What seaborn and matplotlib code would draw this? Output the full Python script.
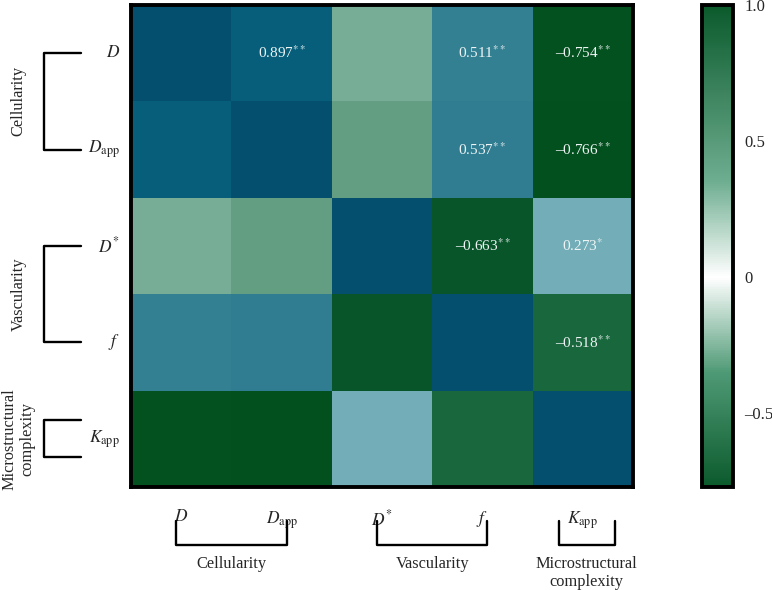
import numpy as np
import pandas as pd
import matplotlib
matplotlib.use("Agg")
import matplotlib.pyplot as plt
import seaborn as sns
from matplotlib.colors import LinearSegmentedColormap, Normalize
from matplotlib.cm import ScalarMappable
from matplotlib.transforms import blended_transform_factory

sns.set_theme(style="white")
plt.rcParams["font.family"] = ["Liberation Serif", "DejaVu Serif"]
plt.rcParams["mathtext.fontset"] = "stix"

# Datos: matriz de correlación (parámetros IVIM / DKI)
params = ["D", "Dapp", "D*", "f", "Kapp"]
tick_labels = [r"$D$", r"$D_{\mathrm{app}}$", r"$D^{*}$", r"$f$", r"$K_{\mathrm{app}}$"]
row_D = [1.0, 0.897, -0.25, 0.511, -0.754]
row_Dapp = [0.897, 1.0, -0.30, 0.537, -0.766]
row_Dstar = [-0.25, -0.30, 1.0, -0.663, 0.273]
row_f = [0.511, 0.537, -0.663, 1.0, -0.518]
row_Kapp = [-0.754, -0.766, 0.273, -0.518, 1.0]

# Etiquetas con significancia (solo triángulo superior)
annot_D = ["", "0.897$^{**}$", "", "0.511$^{**}$", "–0.754$^{**}$"]
annot_Dapp = ["", "", "", "0.537$^{**}$", "–0.766$^{**}$"]
annot_Dstar = ["", "", "", "–0.663$^{**}$", "0.273$^{*}$"]
annot_f = ["", "", "", "", "–0.518$^{**}$"]
annot_Kapp = ["", "", "", "", ""]

group_names = ["Cellularity", "Vascularity", "Microstructural\ncomplexity"]
group_first = [0, 2, 4]
group_last = [1, 3, 4]

cbar_ticks = [1.0, 0.5, 0, -0.5]
cbar_labels = ["1.0", "0.5", "0", "–0.5"]
vmin, vmax = -0.77, 1.0

corr = pd.DataFrame([row_D, row_Dapp, row_Dstar, row_f, row_Kapp], index=params, columns=params)
annot = np.array([annot_D, annot_Dapp, annot_Dstar, annot_f, annot_Kapp])

# Colormap de las celdas: verde (negativo) -> azul (positivo)
def pos(v):
    return (v - vmin) / (vmax - vmin)

cell_cmap = LinearSegmentedColormap.from_list("cells", [
    (pos(-0.77), "#03501f"), (pos(-0.66), "#07552a"), (pos(-0.5), "#1b6a40"),
    (pos(-0.25), "#77ad96"), (pos(0.0), "#eef5f3"), (pos(0.27), "#72adb8"),
    (pos(0.52), "#337f92"), (pos(0.9), "#065e7a"), (pos(1.0), "#034f6d")])

# Colormap de la barra: verde - blanco - verde
bar_cmap = LinearSegmentedColormap.from_list("bar", [
    (0.0, "#0b5a2c"), (pos(-0.35), "#4f9a76"), (pos(0.0), "#ffffff"),
    (pos(0.35), "#6fae91"), (1.0, "#0b5a2c")])

fig = plt.figure(figsize=(7.72, 5.90), dpi=100)
ax = fig.add_axes([131 / 772, 1 - 487 / 590, 502 / 772, 482 / 590])
cax = fig.add_axes([702 / 772, 1 - 487 / 590, 31 / 772, 482 / 590])

sns.heatmap(corr, ax=ax, cmap=cell_cmap, vmin=vmin, vmax=vmax, cbar=False,
            annot=annot, fmt="", annot_kws={"color": "#eef4f4", "fontsize": 11})

for s in ax.spines.values():
    s.set_visible(True)
    s.set_linewidth(2.8)
    s.set_color("black")

ax.set_xticks(np.arange(5) + 0.5)
ax.set_yticks(np.arange(5) + 0.5)
ax.set_xticklabels(tick_labels, fontsize=12.5, rotation=0)
ax.set_yticklabels(tick_labels, fontsize=12.5, rotation=0)
ax.tick_params(axis="both", length=0)
ax.tick_params(axis="x", pad=16)
ax.tick_params(axis="y", pad=8)
ax.set_xlabel("")
ax.set_ylabel("")

# Corchetes de grupos a la izquierda
tr_left = blended_transform_factory(ax.transAxes, ax.transData)
for name, a, b in zip(group_names, group_first, group_last):
    if a == b:
        y0, y1 = a + 0.5 - 0.19, a + 0.5 + 0.19
    else:
        y0, y1 = a + 0.5, b + 0.5
    ax.plot([-0.10, -0.173, -0.173, -0.10], [y0, y0, y1, y1], color="black",
            lw=1.7, transform=tr_left, clip_on=False)
    ax.text(-0.224, (y0 + y1) / 2, name, rotation=90, ha="center", va="center",
            fontsize=11.8, transform=tr_left, linespacing=1.2)

# Corchetes de grupos abajo
tr_bot = blended_transform_factory(ax.transData, ax.transAxes)
for name, a, b in zip(group_names, group_first, group_last):
    if a == b:
        x0, x1 = a + 0.5 - 0.24, a + 0.5 + 0.32
    else:
        x0, x1 = a + 0.45, b + 0.55
    ax.plot([x0, x0, x1, x1], [-0.07, -0.12, -0.12, -0.07], color="black",
            lw=1.7, transform=tr_bot, clip_on=False)
    ax.text((x0 + x1) / 2, -0.143, name, ha="center", va="top",
            fontsize=11.8, transform=tr_bot, linespacing=1.2)

# Barra de color
sm = ScalarMappable(norm=Normalize(vmin=vmin, vmax=vmax), cmap=bar_cmap)
cb = fig.colorbar(sm, cax=cax)
cb.set_ticks(cbar_ticks)
cb.set_ticklabels(cbar_labels)
cb.outline.set_linewidth(2.8)
cb.outline.set_edgecolor("black")
cax.tick_params(axis="y", direction="in", left=True, right=True, length=3,
                width=1.5, labelsize=12, pad=8, color="black")

fig.savefig("out.png", dpi=100)
